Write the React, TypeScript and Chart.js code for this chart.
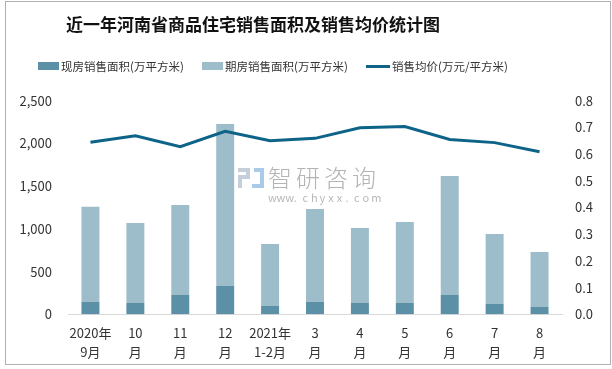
import React, { useEffect, useRef } from 'react';
import { Chart, registerables } from 'chart.js';

Chart.register(...registerables);

const titleText = '近一年河南省商品住宅销售面积及销售均价统计图';
const categories: string[][] = [
  ['2020年', '9月'], ['10', '月'], ['11', '月'], ['12', '月'], ['2021年', '1-2月'],
  ['3', '月'], ['4', '月'], ['5', '月'], ['6', '月'], ['7', '月'], ['8', '月'],
];
const seriesNames = ['现房销售面积(万平方米)', '期房销售面积(万平方米)', '销售均价(万元/平方米)'];
const existingArea = [145, 132, 226, 331, 97, 144, 132, 132, 226, 121, 85];
const futuresArea = [1115, 937, 1054, 1896, 726, 1089, 878, 949, 1393, 819, 645];
const avgPrice = [0.644, 0.669, 0.628, 0.685, 0.65, 0.659, 0.699, 0.703, 0.655, 0.643, 0.609];
const leftAxis = { min: 0, max: 2500, step: 500 };
const rightAxis = { min: 0, max: 0.8, step: 0.1 };

const COLORS = {
  existing: '#5b90a6',
  futures: '#9ebdca',
  line: '#0e6488',
  text: '#333333',
  axis: '#d9d9d9',
};
const FONT = "'Noto Sans CJK SC', 'Liberation Sans', sans-serif";

const watermarkPlugin = {
  id: 'watermark',
  afterDraw(chart: any) {
    const ctx = chart.ctx;
    ctx.save();
    // logo approximation
    ctx.fillStyle = '#c5cfdc';
    ctx.fillRect(238, 168, 12, 4);
    ctx.fillRect(246, 168, 4, 11);
    ctx.fillRect(238, 175, 12, 4);
    ctx.fillRect(238, 175, 4, 13);
    ctx.fillStyle = '#a9cbe8';
    ctx.fillRect(254, 168, 10, 4);
    ctx.fillRect(260, 168, 4, 20);
    ctx.fillRect(252, 184, 12, 4);
    ctx.fillStyle = '#b4b4b4';
    ctx.font = `300 24px ${FONT}`;
    ctx.textBaseline = 'middle';
    ctx.textAlign = 'left';
    const big = '智研咨询';
    for (let i = 0; i < big.length; i++) {
      ctx.fillText(big[i], 268 + i * 28, 178);
    }
    ctx.font = `11px ${FONT}`;
    ctx.fillStyle = '#b8b8b8';
    const small = 'www.chyxx.com';
    for (let i = 0; i < small.length; i++) {
      ctx.fillText(small[i], 268 + i * 8.6, 198);
    }
    ctx.restore();
  },
};

export default function App() {
  const canvasRef = useRef<HTMLCanvasElement | null>(null);

  useEffect(() => {
    const canvas = canvasRef.current;
    if (!canvas) return;
    const chart = new Chart(canvas, {
      type: 'bar',
      data: {
        labels: categories as any,
        datasets: [
          {
            type: 'line',
            label: seriesNames[2],
            data: avgPrice,
            yAxisID: 'y1',
            borderColor: COLORS.line,
            backgroundColor: COLORS.line,
            borderWidth: 3,
            pointRadius: 0,
            tension: 0,
            order: 0,
          } as any,
          {
            type: 'bar',
            label: seriesNames[0],
            data: existingArea,
            yAxisID: 'y',
            backgroundColor: COLORS.existing,
            barPercentage: 0.4,
            categoryPercentage: 1,
            stack: 'area',
            order: 1,
          },
          {
            type: 'bar',
            label: seriesNames[1],
            data: futuresArea,
            yAxisID: 'y',
            backgroundColor: COLORS.futures,
            barPercentage: 0.4,
            categoryPercentage: 1,
            stack: 'area',
            order: 1,
          },
        ],
      },
      options: {
        responsive: false,
        animation: false,
        devicePixelRatio: 1,
        layout: { padding: { top: 100.7, left: 0, right: 0, bottom: 0 } },
        plugins: {
          legend: { display: false },
          title: { display: false },
          tooltip: { enabled: false },
        },
        scales: {
          x: {
            stacked: true,
            grid: { display: false, drawTicks: false },
            border: { display: true, color: COLORS.axis, width: 1 },
            ticks: {
              color: COLORS.text,
              font: { family: FONT, size: 13, lineHeight: 1.45 },
              padding: 9,
              maxRotation: 0,
              autoSkip: false,
            },
            afterFit: (scale: any) => { scale.height = 54.7; },
          },
          y: {
            stacked: true,
            position: 'left',
            min: leftAxis.min,
            max: leftAxis.max,
            grid: { display: false, drawTicks: false },
            border: { display: false },
            ticks: {
              stepSize: leftAxis.step,
              color: COLORS.text,
              font: { family: FONT, size: 13 },
              padding: 16,
              callback: (v: any) => Number(v).toLocaleString('en-US'),
            },
            afterFit: (scale: any) => { scale.width = 68; },
          },
          y1: {
            position: 'right',
            min: rightAxis.min,
            max: rightAxis.max,
            grid: { display: false, drawTicks: false },
            border: { display: false },
            ticks: {
              stepSize: rightAxis.step,
              color: COLORS.text,
              font: { family: FONT, size: 13 },
              padding: 13,
              callback: (v: any) => Number(v).toFixed(1),
            },
            afterFit: (scale: any) => { scale.width = 50; },
          },
        },
      },
      plugins: [watermarkPlugin],
    });
    return () => chart.destroy();
  }, []);

  const legendText: React.CSSProperties = {
    position: 'absolute',
    top: 58,
    fontFamily: FONT,
    fontSize: 11.5,
    lineHeight: '16px',
    color: COLORS.text,
    whiteSpace: 'nowrap',
  };

  return (
    <div style={{ position: 'fixed', left: 0, top: 0, width: 612, height: 369, background: '#fff', overflow: 'hidden' }}>
      <canvas ref={canvasRef} width={612} height={369} style={{ position: 'absolute', left: 0, top: 0, width: 612, height: 369 }} />
      <div style={{ position: 'absolute', left: 5, top: 1, width: 604, height: 362, border: '1px solid #b0b0b0', pointerEvents: 'none' }} />
      <div style={{
        position: 'absolute', left: 53, width: 400, top: 12, textAlign: 'center',
        fontFamily: FONT, fontWeight: 700, fontSize: 17, lineHeight: '24px', color: '#111',
        whiteSpace: 'nowrap',
      }}>{titleText}</div>
      <div style={{ position: 'absolute', left: 38, top: 62, width: 21, height: 8, background: COLORS.existing }} />
      <div style={{ ...legendText, left: 61 }}>{seriesNames[0]}</div>
      <div style={{ position: 'absolute', left: 202, top: 62, width: 21, height: 8, background: COLORS.futures }} />
      <div style={{ ...legendText, left: 225 }}>{seriesNames[1]}</div>
      <div style={{ position: 'absolute', left: 366, top: 65, width: 24, height: 3, background: COLORS.line }} />
      <div style={{ ...legendText, left: 392 }}>{seriesNames[2]}</div>
    </div>
  );
}
